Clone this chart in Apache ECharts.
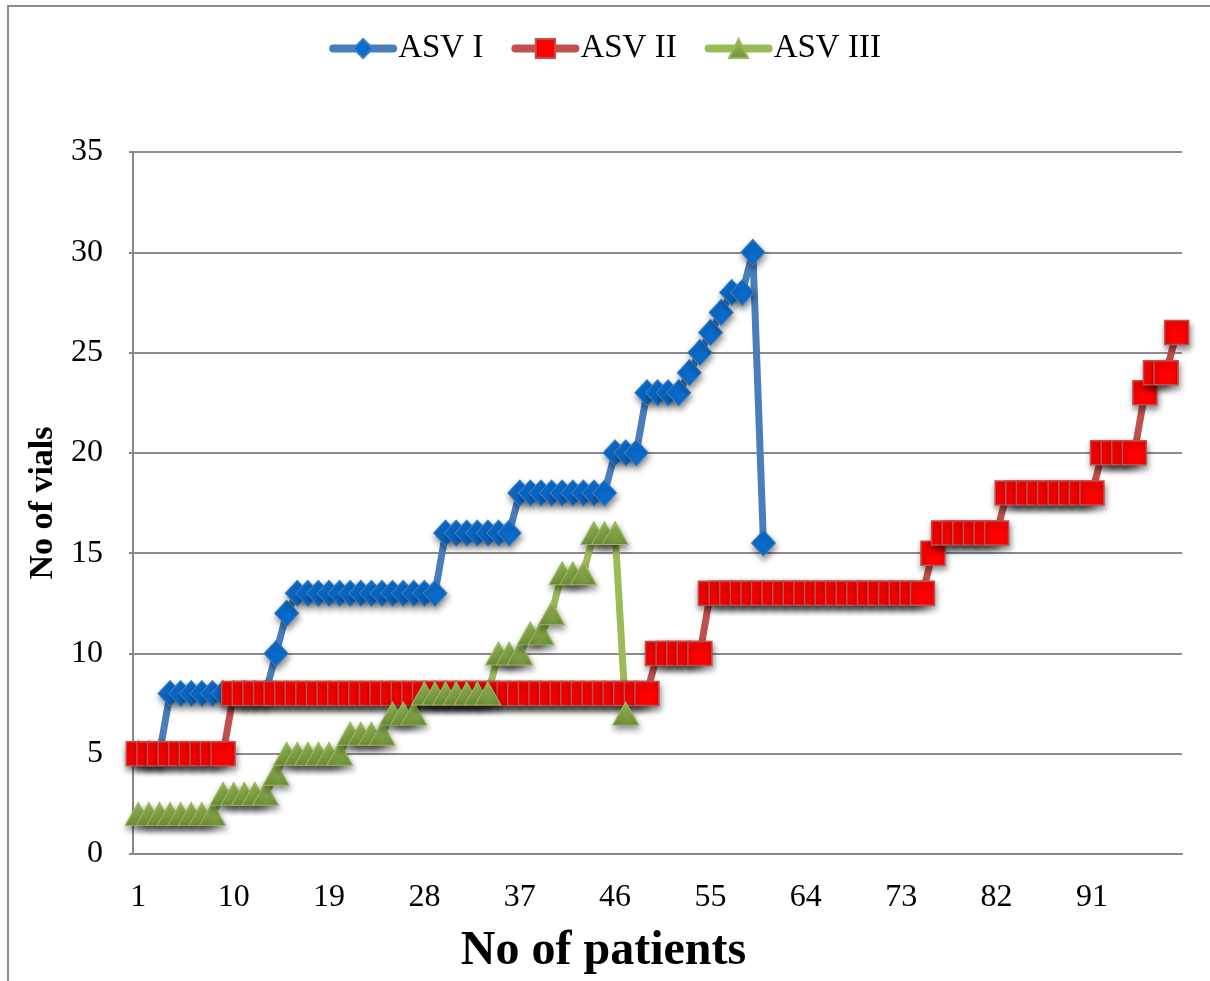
<!DOCTYPE html>
<html>
<head>
<meta charset="utf-8">
<script src="https://cdn.jsdelivr.net/npm/echarts@6/dist/echarts.min.js"></script>
<style>
html,body{margin:0;padding:0;background:#fff;}
#chart{width:1210px;height:981px;}
</style>
</head>
<body>
<div id="chart"></div>
<script>
const categories = [1,2,3,4,5,6,7,8,9,10,11,12,13,14,15,16,17,18,19,20,21,22,23,24,25,26,27,28,29,30,31,32,33,34,35,36,37,38,39,40,41,42,43,44,45,46,47,48,49,50,51,52,53,54,55,56,57,58,59,60,61,62,63,64,65,66,67,68,69,70,71,72,73,74,75,76,77,78,79,80,81,82,83,84,85,86,87,88,89,90,91,92,93,94,95,96,97,98,99].map(String);

const asv1 = [5,5,5,8,8,8,8,8,8,8,8,8,8,10,12,13,13,13,13,13,13,13,13,13,13,13,13,13,13,16,16,16,16,16,16,16,18,18,18,18,18,18,18,18,18,20,20,20,23,23,23,23,24,25,26,27,28,28,30,15.5];

const asv2 = [5,5,5,5,5,5,5,5,5,
  8,8,8,8,8,8,8,8,8,8,8,8,8,8,8,8,8,8,8,8,8,8,8,8,8,8,8,8,8,8,8,8,8,8,8,8,8,8,8,8,
  10,10,10,10,10,
  13,13,13,13,13,13,13,13,13,13,13,13,13,13,13,13,13,13,13,13,13,
  15,
  16,16,16,16,16,16,
  18,18,18,18,18,18,18,18,18,
  20,20,20,20,
  23,24,24,26];

const asv3 = [2,2,2,2,2,2,2,2,3,3,3,3,3,4,5,5,5,5,5,5,6,6,6,6,7,7,7,8,8,8,8,8,8,8,10,10,10,11,11,12,14,14,14,16,16,16,7];

const seriesNames = ['ASV I','ASV II','ASV III'];
const yTicks = {min:0, max:35, interval:5};

const FONT = '"Liberation Serif","Times New Roman",serif';
const shadow = {shadowColor:'rgba(0,0,0,0.45)', shadowBlur:6, shadowOffsetX:1, shadowOffsetY:4};

const chart = echarts.init(document.getElementById('chart'));
chart.setOption({
  backgroundColor:'#fff',
  animation:false,
  graphic:[{type:'rect', shape:{x:8,y:6,width:1220,height:1000}, style:{fill:'none', stroke:'#8c8c8c', lineWidth:2}, silent:true, z:-1}],
  legend:{
    top:27, left:'center',
    itemWidth:60, itemHeight:24, itemGap:28,
    lineStyle:{width:8, cap:'round'},
    textStyle:{fontFamily:FONT, fontSize:33, color:'#000'},
    data:seriesNames
  },
  grid:{left:133, right:28, top:152, bottom:120, containLabel:false},
  xAxis:{
    type:'category', data:categories, boundaryGap:true,
    axisLine:{show:true, lineStyle:{color:'#888', width:2}},
    axisTick:{show:false},
    axisLabel:{interval:8, fontFamily:FONT, fontSize:32, color:'#000', margin:28},
    name:'No of patients', nameLocation:'middle', nameGap:74,
    nameTextStyle:{fontFamily:FONT, fontSize:48, fontWeight:'bold', color:'#000', padding:[0,108,0,0]}
  },
  yAxis:{
    type:'value', min:yTicks.min, max:yTicks.max, interval:yTicks.interval,
    axisLine:{show:true, lineStyle:{color:'#888', width:2}},
    axisTick:{show:true, length:4, lineStyle:{color:'#888', width:2}},
    splitLine:{show:true, lineStyle:{color:'#8c8c8c', width:2}},
    axisLabel:{fontFamily:FONT, fontSize:32, color:'#000', margin:30},
    name:'No of vials', nameLocation:'middle', nameGap:72,
    nameTextStyle:{fontFamily:FONT, fontSize:34, fontWeight:'bold', color:'#000'}
  },
  series:[
    {name:seriesNames[0], type:'line', data:asv1, symbol:'diamond', symbolSize:[24,26], showAllSymbol:true,
      lineStyle:{color:'#4a7ebb', width:7, cap:'round'},
      itemStyle:Object.assign({color:'#0a6ccb', borderColor:'#3f7fc6', borderWidth:1}, shadow)},
    {name:seriesNames[1], type:'line', data:asv2, symbol:'rect', symbolSize:[24,24], showAllSymbol:true,
      lineStyle:{color:'#c0504d', width:7, cap:'round'},
      itemStyle:Object.assign({color:'#ff0000', borderColor:'#c0504d', borderWidth:1.5}, shadow)},
    {name:seriesNames[2], type:'line', data:asv3, symbol:'triangle', symbolSize:[26,23], showAllSymbol:true,
      lineStyle:{color:'#9bbb59', width:7, cap:'round'},
      itemStyle:Object.assign({color:new echarts.graphic.LinearGradient(0,0,0,1,[{offset:0,color:'#9dc05a'},{offset:1,color:'#71913a'}]), borderColor:'#9bbb59', borderWidth:1}, shadow)}
  ]
});
</script>
</body>
</html>
